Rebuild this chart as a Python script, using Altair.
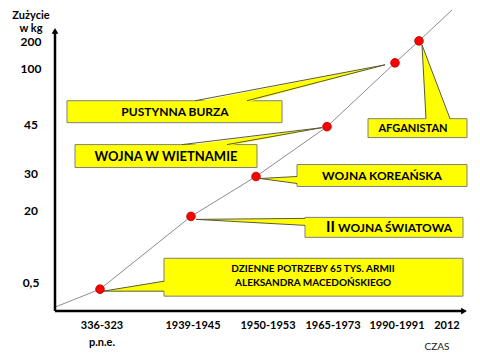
import altair as alt
import pandas as pd

# ---- data (positions, in picture units) ----
periods = ["336-323", "1939-1945", "1950-1953", "1965-1973", "1990-1991", "2012"]
period_x = [102, 193, 268, 333, 397, 447]
consumption = ["0,5", "20", "30", "45", "100", "200"]
consumption_y = [284, 212, 174, 125, 69, 42]

point_x = [100, 191, 256, 327, 395, 419]
point_y = [290, 217, 177, 127, 63, 41]
trend_x = [55, 100, 191, 256, 327, 395, 419, 452]
trend_y = [308, 290, 217, 177, 127, 63, 41, 10]

box_x1 = [67, 75, 297, 305, 164, 368]
box_x2 = [282, 257, 467, 463, 463, 467]
box_y1 = [101, 145, 165, 218, 259, 119]
box_y2 = [123, 168, 187, 238, 297, 138]

# wedges attached to top edge of a box (tip, base y, base x range)
tw_tip_x = [385, 322, 422]
tw_tip_y = [65, 128, 45]
tw_base_y = [101, 145, 119]
tw_base_x1 = [195, 182, 426]
tw_base_x2 = [247, 227, 450]
# wedges attached to left edge of a box
lw_tip_x = [260, 196, 103]
lw_tip_y = [179, 220, 292]
lw_base_x = [297, 305, 164]
lw_base_y1 = [177, 219, 282]
lw_base_y2 = [184, 226, 292]

FONT = "Lato"
xs = alt.Scale(domain=[8, 472])
ys = alt.Scale(domain=[352, 8])
X = lambda f: alt.X(f, type="quantitative", scale=xs, axis=None)
Y = lambda f: alt.Y(f, type="quantitative", scale=ys, axis=None)
X2 = lambda f: alt.X2(f)
Y2 = lambda f: alt.Y2(f)

# trend line
trend = alt.Chart(pd.DataFrame({"x": trend_x, "y": trend_y, "o": range(len(trend_x))})).mark_line(
    color="#8c8c8c", strokeWidth=1).encode(x=X("x"), y=Y("y"), order="o:Q")

# axes
axes_df = pd.DataFrame({"x": [55, 55], "y": [312, 312], "x2": [55, 462], "y2": [31, 312]})
axes = alt.Chart(axes_df).mark_rule(color="black", strokeWidth=2.5).encode(
    x=X("x"), y=Y("y"), x2=X2("x2"), y2=Y2("y2"))
heads_df = pd.DataFrame({"x": [55, 464], "y": [31, 312], "s": ["triangle-up", "triangle-right"]})
heads = alt.Chart(heads_df).mark_point(filled=True, color="black", opacity=1, size=45).encode(
    x=X("x"), y=Y("y"), shape=alt.Shape("s:N", scale=None))

# boxes
boxes_df = pd.DataFrame({"x1": box_x1, "x2": box_x2, "y1": box_y1, "y2": box_y2})
boxes = alt.Chart(boxes_df).mark_rect(fill="#ffff00", stroke="#7f7f7f", strokeWidth=1).encode(
    x=X("x1"), x2=X2("x2"), y=Y("y1"), y2=Y2("y2"))

# top wedges (horizontal areas)
tw_rows = []
for i in range(len(tw_tip_x)):
    tw_rows += [
        {"w": i, "y": tw_tip_y[i], "x": tw_tip_x[i], "x2": tw_tip_x[i]},
        {"w": i, "y": tw_base_y[i] + 1.5, "x": tw_base_x1[i], "x2": tw_base_x2[i]},
    ]
tw_df = pd.DataFrame(tw_rows)
top_wedges = alt.Chart(tw_df).mark_area(orient="horizontal", color="#ffff00", opacity=1).encode(
    y=Y("y"), x=X("x"), x2=X2("x2"), detail="w:N")

lw_rows = []
for i in range(len(lw_tip_x)):
    lw_rows += [
        {"w": i, "x": lw_tip_x[i], "y": lw_tip_y[i], "y2": lw_tip_y[i]},
        {"w": i, "x": lw_base_x[i] + 1.5, "y": lw_base_y1[i], "y2": lw_base_y2[i]},
    ]
lw_df = pd.DataFrame(lw_rows)
left_wedges = alt.Chart(lw_df).mark_area(orient="vertical", color="#ffff00", opacity=1).encode(
    x=X("x"), y=Y("y"), y2=Y2("y2"), detail="w:N")

# wedge edges
edge_rows = []
for i in range(len(tw_tip_x)):
    edge_rows.append({"x": tw_tip_x[i], "y": tw_tip_y[i], "x2": tw_base_x1[i], "y2": tw_base_y[i]})
    edge_rows.append({"x": tw_tip_x[i], "y": tw_tip_y[i], "x2": tw_base_x2[i], "y2": tw_base_y[i]})
for i in range(len(lw_tip_x)):
    edge_rows.append({"x": lw_tip_x[i], "y": lw_tip_y[i], "x2": lw_base_x[i], "y2": lw_base_y1[i]})
    edge_rows.append({"x": lw_tip_x[i], "y": lw_tip_y[i], "x2": lw_base_x[i], "y2": lw_base_y2[i]})
edges = alt.Chart(pd.DataFrame(edge_rows)).mark_rule(color="#5a5a3a", strokeWidth=1).encode(
    x=X("x"), y=Y("y"), x2=X2("x2"), y2=Y2("y2"))

# points
pts = alt.Chart(pd.DataFrame({"x": point_x, "y": point_y})).mark_point(
    filled=True, fill="#ff0000", stroke="#b00000", strokeWidth=0.8, opacity=1, size=75, shape="circle").encode(
    x=X("x"), y=Y("y"))

# box labels
lab_rows = [
    {"t": "PUSTYNNA BURZA", "x": 175, "y": 112, "s": 12, "a": "center"},
    {"t": "WOJNA W WIETNAMIE", "x": 166, "y": 157, "s": 13, "a": "center"},
    {"t": "WOJNA KOREAŃSKA", "x": 382, "y": 176, "s": 12, "a": "center"},
    {"t": "II", "x": 326, "y": 228, "s": 15, "a": "left"},
    {"t": "WOJNA ŚWIATOWA", "x": 338, "y": 228.5, "s": 12, "a": "left"},
    {"t": "DZIENNE POTRZEBY 65 TYS. ARMII", "x": 313, "y": 270, "s": 10, "a": "center"},
    {"t": "ALEKSANDRA MACEDOŃSKIEGO", "x": 313, "y": 284, "s": 10, "a": "center"},
    {"t": "AFGANISTAN", "x": 413, "y": 129, "s": 11, "a": "center"},
]
lab_df = pd.DataFrame(lab_rows)
labels_c = alt.Chart(lab_df[lab_df.a == "center"]).mark_text(
    font=FONT, fontWeight="bold", color="black", align="center", baseline="middle").encode(
    x=X("x"), y=Y("y"), text="t:N", size=alt.Size("s:Q", scale=None))
labels_l = alt.Chart(lab_df[lab_df.a == "left"]).mark_text(
    font=FONT, fontWeight="bold", color="black", align="left", baseline="middle").encode(
    x=X("x"), y=Y("y"), text="t:N", size=alt.Size("s:Q", scale=None))

# axis labels
xl_df = pd.DataFrame({"t": periods + ["p.n.e."], "x": period_x + [period_x[0]],
                      "y": [327] * len(periods) + [344]})
xlabels = alt.Chart(xl_df).mark_text(font=FONT, fontWeight="bold", fontSize=11, color="black",
                                      baseline="middle").encode(x=X("x"), y=Y("y"), text="t:N")
yl_df = pd.DataFrame({"t": consumption + ["Zużycie", "w kg"], "y": consumption_y + [16, 29],
                      "x": [31] * (len(consumption) + 2),
                      "s": [12] * len(consumption) + [11, 11]})
ylabels = alt.Chart(yl_df).mark_text(font=FONT, fontWeight="bold", color="black",
                                      baseline="middle").encode(
    x=X("x"), y=Y("y"), text="t:N", size=alt.Size("s:Q", scale=None))
czas = alt.Chart(pd.DataFrame({"t": ["CZAS"], "x": [437], "y": [348]})).mark_text(
    font=FONT, fontSize=10, color="#222222", baseline="middle").encode(x=X("x"), y=Y("y"), text="t:N")

chart = alt.layer(trend, boxes, top_wedges, left_wedges, edges, axes, heads, pts,
                  labels_c, labels_l, xlabels, ylabels, czas).properties(
    width=464, height=344, padding=0,
    autosize=alt.AutoSizeParams(type="fit", contains="padding"),
    background="white",
).configure_view(stroke=None)

chart.save("out.html", embed_options={"renderer": "svg", "actions": False})
